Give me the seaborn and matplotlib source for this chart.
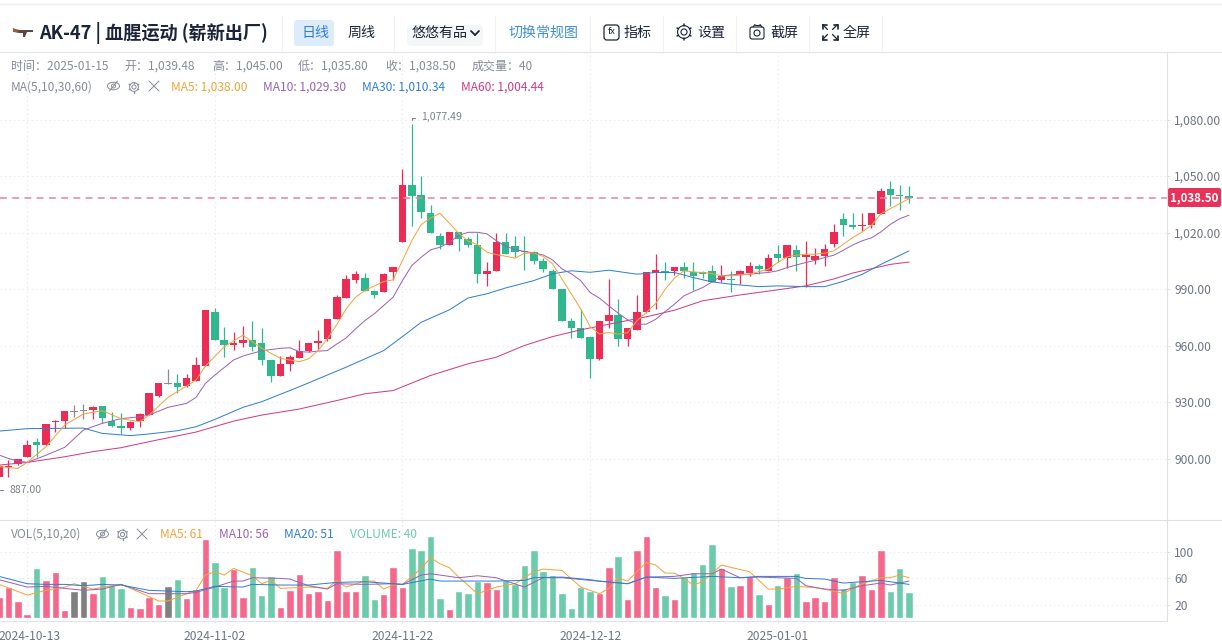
import numpy as np
import pandas as pd
import matplotlib
matplotlib.use('Agg')
import matplotlib.pyplot as plt
from matplotlib.patches import Circle, Ellipse, FancyBboxPatch, Polygon
from matplotlib.transforms import ScaledTranslation
import seaborn as sns

# Day 0 is 2024-10-13, the chart runs up to 2025-01-15
days = list(range(-3, 95))

opens = [890.6, 895.6, 897.3, 900.9, 908.8, 907.4, 919.6, 920.0, 925.6, 926.1, 926.0, 928.3, 920.1, 917.7,
         916.6, 920.0, 923.5, 933.4, 940.5, 940.5, 938.7, 941.5, 949.3, 978.1, 963.1, 960.4, 961.7, 963.1,
         961.3, 952.5, 944.0, 950.4, 953.7, 957.2, 961.4, 963.7, 974.5, 985.4, 995.0, 995.9, 989.3, 988.6,
         998.9, 1014.8, 1045.2, 1039.9, 1030.3, 1018.1, 1013.5, 1020.2, 1016.4, 1013.4, 998.3, 999.9, 1014.8,
         1012.8, 1010.2, 1009.5, 1005.2, 999.6, 989.9, 973.4, 969.5, 964.9, 953.1, 973.3, 976.4, 963.7, 968.5,
         978.2, 998.5, 999.9, 999.6, 1001.9, 999.4, 999.4, 999.8, 995.0, 995.7, 998.0, 998.7, 1002.6, 999.8,
         1008.9, 1006.5, 1010.9, 1007.3, 1005.4, 1007.7, 1013.8, 1027.2, 1023.9, 1023.5, 1024.2, 1029.7,
         1043.0, 1040.0, 1039.48]
closes = [896.3, 896.5, 900.0, 907.6, 907.4, 918.7, 920.3, 925.6, 924.9, 925.6, 927.7, 921.9, 917.5, 916.4,
          919.6, 923.9, 935.2, 940.5, 939.8, 938.0, 942.9, 949.8, 979.2, 963.1, 960.2, 961.7, 963.1, 959.4,
          952.5, 944.0, 950.4, 954.2, 957.4, 961.4, 962.8, 974.1, 985.8, 995.3, 998.2, 989.3, 987.2, 998.2,
          1001.7, 1045.2, 1039.5, 1031.2, 1020.1, 1013.5, 1020.2, 1016.4, 1013.7, 998.3, 999.9, 1014.8, 1008.9,
          1010.0, 1009.5, 1005.2, 1001.0, 989.9, 973.4, 969.5, 963.9, 952.8, 973.4, 976.4, 963.5, 969.4, 978.2,
          998.9, 1000.1, 999.2, 1002.0, 999.8, 997.1, 998.3, 993.9, 997.1, 995.0, 999.8, 1002.4, 1000.6, 1006.8,
          1006.5, 1013.7, 1007.3, 1008.2, 1007.7, 1011.4, 1020.4, 1023.9, 1023.2, 1024.1, 1030.6, 1042.1,
          1039.8, 1039.3, 1038.5]
highs = [896.8, 899.5, 900.2, 910.1, 911.0, 918.7, 920.7, 925.6, 928.4, 929.0, 928.1, 928.3, 925.1, 924.2,
         920.0, 924.2, 935.2, 940.5, 947.7, 944.9, 944.9, 953.9, 979.2, 979.9, 969.8, 967.3, 970.5, 973.0,
         969.3, 952.5, 954.8, 955.1, 963.1, 961.4, 968.5, 974.1, 986.7, 997.8, 999.6, 998.7, 989.6, 998.7,
         1001.7, 1053.8, 1077.49, 1049.8, 1034.9, 1020.1, 1020.2, 1020.2, 1017.6, 1019.7, 1004.5, 1020.1, 1020.1,
         1018.0, 1018.0, 1010.5, 1006.6, 1000.8, 990.2, 974.8, 979.6, 964.9, 973.4, 995.3, 984.7, 969.4, 987.0,
         998.9, 1008.9, 1004.5, 1002.0, 1004.5, 1004.5, 999.8, 1002.9, 1002.9, 999.8, 1000.1, 1004.2, 1003.6,
         1008.6, 1013.5, 1013.7, 1013.5, 1015.7, 1011.8, 1013.9, 1024.8, 1030.4, 1030.4, 1030.4, 1030.6,
         1043.7, 1047.2, 1045.1, 1045.0]
lows = [890.3, 890.6, 897.0, 900.9, 901.2, 907.4, 914.5, 916.3, 922.4, 921.0, 921.4, 919.3, 917.1, 913.3,
        915.5, 917.1, 923.1, 932.7, 939.8, 935.2, 938.3, 941.2, 949.3, 963.1, 954.2, 957.8, 959.2, 957.4,
        949.6, 940.6, 944.0, 946.8, 953.4, 956.5, 958.4, 962.8, 974.5, 985.4, 993.2, 989.3, 985.4, 988.3,
        995.0, 1014.8, 1023.8, 1027.8, 1020.1, 1011.4, 1013.5, 1010.2, 1012.3, 993.2, 991.6, 999.9, 1008.9,
        1007.0, 1000.3, 1003.5, 999.0, 989.9, 973.4, 964.1, 963.9, 943.0, 952.6, 969.7, 960.0, 960.0, 968.5,
        977.5, 979.6, 994.8, 997.6, 995.9, 989.7, 996.2, 993.6, 993.6, 988.8, 992.7, 997.1, 998.0, 999.8,
        1004.2, 1001.5, 999.8, 991.4, 1003.6, 1002.4, 1012.4, 1018.0, 1022.1, 1020.9, 1022.5, 1029.7,
        1034.0, 1031.8, 1035.8]
volumes = [32, 47, 26, 6, 75, 57, 69, 12, 41, 56, 38, 63, 50, 45, 17, 15, 32, 21, 48, 59, 30, 44, 119, 84, 47,
           74, 32, 77, 35, 63, 17, 42, 66, 38, 41, 27, 102, 41, 41, 65, 29, 36, 77, 47, 105, 102, 123, 30, 14,
           41, 38, 56, 54, 44, 57, 51, 80, 102, 71, 65, 38, 15, 47, 41, 38, 77, 93, 29, 102, 123, 47, 35, 29,
           62, 69, 81, 111, 75, 48, 50, 63, 36, 21, 50, 62, 68, 26, 32, 26, 62, 45, 54, 65, 44, 102, 41, 75, 40]
flat_days = [5, 6, 15]

ma5_days = [-3, -1, 0, 2, 4, 6, 8, 10, 12, 13, 15, 17, 18, 19, 21, 23, 25, 27, 29] + list(range(30, 95))
ma5 = [896, 895, 898.2, 906.5, 918, 923.9, 925.6, 921.4, 919.8, 923.3, 932.7, 938.7, 941.9, 949.3, 959.5, 965.7,
       958.7, 953.4, 951.6, 953.1, 957.5, 963.7, 971.3, 979.6, 985.8, 989.3, 991.8, 994.1, 995, 1005.2, 1015.8,
       1024.3, 1027.8, 1030.3, 1025, 1019.7, 1015.5, 1013.7, 1009.6, 1008.4, 1007.5, 1006.5, 1009.1, 1009.3,
       1007.4, 1003.5, 995.5, 987.6, 979.6, 970.3, 966.3, 967.1, 966.2, 967, 973.3, 977.7, 982.4, 990, 995.9,
       999.8, 999.2, 998.9, 998.3, 997.1, 997.1, 997.5, 998, 999.4, 1000.6, 1004.2, 1007.2, 1008.1, 1008.6,
       1008.6, 1009.1, 1010.4, 1013.9, 1017.4, 1020.4, 1023.9, 1030, 1032.7, 1035.4, 1038]
ma10_days = [-3, -2, -1, 0, 2, 4, 6, 8, 10, 12, 13, 15, 17, 18, 19, 20, 22, 23, 25, 27, 28, 29] + list(range(30, 95))
ma10 = [902.1, 900.3, 898.9, 898.2, 902, 906.2, 915.4, 918.9, 921.4, 922.4, 923.3, 927.4, 929.5, 932.7, 940.1,
        944.5, 952.5, 954.6, 957.4, 958.7, 959, 956.9, 956.7, 957.2, 957.5, 961, 964.2, 969, 973.4, 977, 981.4,
        985.8, 994.6, 1002.6, 1007, 1010.9, 1012.3, 1014.9, 1018.5, 1020.2, 1020.2, 1019.4, 1015.8, 1012.8,
        1011.1, 1010, 1009.3, 1008.2, 1005.6, 1000.8, 998.2, 994.6, 988.3, 985.3, 981.2, 977.3, 973.8, 971.5,
        971.5, 974.1, 978.2, 982.1, 986.5, 988.8, 990.9, 993.9, 997.1, 997.6, 998, 998, 998.5, 998.9, 999.8,
        1001.5, 1002.9, 1004.2, 1005.4, 1006.8, 1008.1, 1010.7, 1013.5, 1015.7, 1017.3, 1020.4, 1024.4, 1027.4,
        1029.3]
ma30_days = [-3, 0, 6, 8, 11, 13, 16, 18, 20, 23, 25, 29, 34, 38, 40, 42, 45, 47, 49, 51, 54, 56, 58, 60, 62, 65,
             67, 69, 71, 73, 75, 78, 80, 83, 85, 87, 89, 91, 94]
ma30 = [914.8, 916.1, 916.4, 913.6, 912.4, 913.3, 915, 917.1, 921, 927.4, 930.4, 938.3, 948.7, 957.5, 964.9,
        972.5, 979.1, 985.4, 987.6, 990.7, 994.6, 998.2, 999.8, 999, 1000.1, 998, 998.9, 998.9, 996.2, 993.9,
        992.7, 991.4, 991.8, 991.4, 991.4, 994.2, 997.9, 1003.2, 1010.34]
ma60_days = [-3, 0, 4, 7, 10, 13, 18, 22, 25, 29, 33, 36, 39, 43, 47, 50, 53, 56, 59, 61, 66, 69, 72, 76, 80, 83,
             86, 88, 90, 92, 94]
ma60 = [896.8, 898.2, 901.2, 903.9, 906, 909.2, 914.3, 920.1, 923.3, 926.5, 931, 934.6, 936.3, 944.3, 950.5, 954,
        960.2, 964.9, 968.5, 970.5, 975.4, 978.9, 983.9, 987, 989.7, 991.8, 995.5, 998.6, 1000.9, 1003.2, 1004.44]

vol_ma5_days = [-3, 0, 2, 4, 5, 7, 9, 10, 12, 14, 15, 17, 18, 19, 20, 21, 22, 24, 25, 26, 27, 30, 32, 33, 34, 36,
                37, 38, 39, 40, 42, 43, 44, 45, 46, 48, 50, 52, 54, 55, 57, 59, 61, 62, 63, 64, 66, 67, 68, 69,
                70, 71, 72, 74, 77, 79, 80, 82, 84, 86, 87, 89, 91, 92, 93, 94]
vol_ma5 = [51, 35, 42, 47, 52, 44, 49, 51, 39, 26, 26, 37, 42, 65, 70, 65, 75, 64, 52, 57, 45, 47, 45, 57, 47, 56,
           56, 44, 50, 51, 75, 91, 82, 76, 62, 37, 47, 52, 70, 74, 72, 47, 37, 45, 60, 56, 84, 80, 68, 68,
           60, 50, 55, 80, 70, 44, 44, 48, 46, 41, 37, 52, 61, 61, 65, 61]
vol_ma10_days = [-3, 0, 2, 4, 6, 8, 10, 13, 17, 18, 20, 22, 23, 24, 27, 28, 30, 32, 33, 36, 39, 40, 42, 43, 46, 48,
                 50, 53, 55, 57, 60, 64, 66, 69, 71, 73, 74, 76, 78, 82, 83, 85, 87, 89, 91, 92, 94]
vol_ma10 = [58, 47, 48, 45, 42, 44, 51, 37, 37, 39, 47, 56, 56, 61, 60, 59, 49, 44, 52, 51, 52, 51, 65, 67, 61, 64,
            61, 47, 61, 61, 57, 52, 62, 63, 67, 67, 74, 61, 62, 60, 49, 44, 42, 49, 53, 50, 56]
vol_ma20_days = [-3, 0, 2, 4, 6, 8, 10, 13, 17, 18, 20, 23, 24, 27, 30, 33, 36, 39, 40, 43, 44, 46, 50, 53, 54, 57,
                 60, 61, 64, 66, 69, 73, 76, 78, 82, 83, 85, 87, 89, 91, 94]
vol_ma20 = [63, 52, 51, 51, 49, 51, 50, 42, 40, 41, 48, 47, 51, 50, 50, 54, 55, 52, 51, 59, 56, 56, 56, 57, 61, 62,
            58, 56, 52, 62, 60, 63, 61, 63, 63, 60, 59, 53, 55, 57, 51]

price_ticks = [900, 930, 960, 990, 1020, 1050, 1080]
vol_ticks = [20, 60, 100]
date_ticks = [0, 20, 40, 60, 80]
date_labels = ['2024-10-13', '2024-11-02', '2024-11-22', '2024-12-12', '2025-01-01']
last_price = 1038.50

RED, GREEN, GREY = '#ED2C56', '#2FB88D', '#8C8C8C'
VOL_COLORS = {'up': '#F5688B', 'down': '#6CCBAA', 'flat': '#808080'}
MA_COLORS = ['#F3A33A', '#9A62B8', '#2F7FD3', '#D23A80']
LINE, TXT, DARK = '#DFE1E5', '#868C99', '#1B2438'

sns.set_theme(style='white')
plt.rcParams['font.family'] = ['Noto Sans CJK SC', 'DejaVu Sans']
W, H = 1222, 643


def panel(left, top, right, bottom):
    return fig.add_axes([left / W, 1 - bottom / H, (right - left) / W, (bottom - top) / H])


fig = plt.figure(figsize=(W / 100, H / 100), dpi=100, facecolor='white')
ax = panel(0, 52, 1167, 519)
ax_vol = panel(0, 519, 1167, 620)

# candles
df = pd.DataFrame({'day': days, 'open': opens, 'close': closes, 'high': highs, 'low': lows, 'volume': volumes})
df['kind'] = np.where(df['close'] >= df['open'], 'up', 'down')
df.loc[df['day'].isin(flat_days), 'kind'] = 'flat'
candle_color = df['kind'].map({'up': RED, 'down': GREEN, 'flat': GREY})

ax.vlines(df['day'], df['low'], df['high'], colors=candle_color, linewidth=0.9, zorder=2)
ax.bar(df['day'], (df['close'] - df['open']).abs().clip(lower=0.6), bottom=df[['open', 'close']].min(axis=1),
       width=0.8, color=candle_color, linewidth=0, zorder=3)

# moving averages
for xs, ys, c in [(ma60_days, ma60, MA_COLORS[3]), (ma30_days, ma30, MA_COLORS[2]),
                  (ma10_days, ma10, MA_COLORS[1]), (ma5_days, ma5, MA_COLORS[0])]:
    sns.lineplot(x=xs, y=ys, color=c, linewidth=0.72, ax=ax, zorder=4, errorbar=None)
ax.axhline(last_price, color='#E8839B', linewidth=1.1, linestyle=(0, (4.5, 3.5)), zorder=5)

# volume
sns.barplot(data=df, x='day', y='volume', hue='kind', palette=VOL_COLORS, native_scale=True, dodge=False,
            width=0.8, saturation=1, errorbar=None, legend=False, ax=ax_vol, zorder=2)
for xs, ys, c in [(vol_ma5_days, vol_ma5, MA_COLORS[0]), (vol_ma10_days, vol_ma10, MA_COLORS[1]),
                  (vol_ma20_days, vol_ma20, MA_COLORS[2])]:
    sns.lineplot(x=xs, y=ys, color=c, linewidth=0.72, ax=ax_vol, zorder=4, errorbar=None)

# axes setup
ax.set_xlim(-2.9, 121.5)
ax.set_ylim(868.2, 1115.8)
ax_vol.set_xlim(-2.9, 121.5)
ax_vol.set_ylim(-2.55, 149.3)

ax.set_yticks(price_ticks, [f'{p:,.2f}' for p in price_ticks])
ax.set_xticks(date_ticks, [])
ax_vol.set_yticks(vol_ticks, [str(v) for v in vol_ticks])
ax_vol.set_xticks(date_ticks, date_labels)
ax_vol.set_xlabel('')
ax_vol.set_ylabel('')
for a in (ax, ax_vol):
    a.yaxis.tick_right()
    a.tick_params(axis='y', length=2.2, width=0.7, color=LINE, labelsize=8.7, labelcolor='#6F7582', pad=3, right=True)
    a.grid(True, color='#ECEDF0', linewidth=0.8, linestyle=(0, (1.5, 2.5)), zorder=0)
    a.set_axisbelow(True)
    for s in a.spines.values():
        s.set_visible(False)
ax.tick_params(axis='x', length=0)
ax_vol.tick_params(axis='x', length=2.2, width=0.7, color=LINE, labelsize=8.7, labelcolor='#6F7582', pad=5, bottom=True)
# first date sits at the left edge, nudge it so the text stays inside
first = ax_vol.get_xticklabels()[0]
first.set_transform(first.get_transform() + ScaledTranslation(2.5 / 100, 0, fig.dpi_scale_trans))

# page chrome, drawn in pixel coordinates
ui = fig.add_axes([0, 0, 1, 1], facecolor='none', zorder=10)
ui.set_xlim(0, W)
ui.set_ylim(H, 0)
ui.axis('off')


def txt(x, y, s, size=12, color=TXT, ha='left', **kw):
    ui.text(x, y, s, fontsize=size * 0.72, color=color, ha=ha, va='center', **kw)


def seg(x0, y0, x1, y1, color=LINE, lw=0.8):
    ui.plot([x0, x1], [y0, y1], color=color, linewidth=lw, solid_capstyle='round')


seg(0, 4, W, 4, '#EEEFF1', 1)
seg(0, 51.5, 1222, 51.5, '#E6E7EA', 1)
seg(0, 519.5, 1222, 519.5)
seg(0, 620.5, 1167, 620.5)
seg(1167, 52, 1167, 620.5)
for x in [282, 394, 495, 590, 663, 736, 809, 882]:
    seg(x, 16, x, 51, '#F0F1F3', 0.8)

# gun icon
ui.add_patch(Polygon([[13, 29], [20, 30], [33, 30], [33, 32], [27, 32], [25, 37], [23, 37], [23, 33], [19, 33], [14, 32]],
                     facecolor='#5A4A42', edgecolor='none'))
ui.add_patch(Polygon([[13, 28], [18, 30], [18, 32], [13, 32]], facecolor='#9A5B3A', edgecolor='none'))

txt(39, 32.5, 'AK-47 | 血腥运动 (崭新出厂)', 18.2, DARK, fontweight='bold')
ui.add_patch(FancyBboxPatch((294, 20), 40, 26, boxstyle='round,pad=0,rounding_size=3', fc='#DDEBFA', ec='none'))
txt(315, 32.5, '日线', 14, '#2F7FD3', ha='center')
txt(362, 32.5, '周线', 14, DARK, ha='center')
ui.add_patch(FancyBboxPatch((407, 25), 76, 21, boxstyle='round,pad=0,rounding_size=5', fc='#F5F6F8', ec='none'))
txt(412, 33, '悠悠有品', 14, DARK)
seg(471, 31, 475, 35, DARK, 1.3)
seg(475, 35, 479, 31, DARK, 1.3)
txt(509, 32.5, '切换常规图', 14, '#3F8FD6')
ui.add_patch(FancyBboxPatch((604, 25), 15, 15, boxstyle='round,pad=0,rounding_size=3', fc='none', ec=DARK, lw=0.9))
txt(611.5, 32, 'fx', 9.5, DARK, ha='center', style='italic')
txt(624, 32.5, '指标', 14, DARK)


def gear(x, y, r, color, lw=0.7):
    ui.add_patch(Circle((x, y), r * 0.38, fc='none', ec=color, lw=lw))
    ui.add_patch(Circle((x, y), r * 0.8, fc='none', ec=color, lw=lw))
    for a in np.arange(0, 360, 60) + 30:
        c, s = np.cos(np.radians(a)), np.sin(np.radians(a))
        seg(x + c * r * 0.8, y + s * r * 0.8, x + c * r, y + s * r, color, lw + 0.3)


def eye(x, y, color):
    ui.add_patch(Ellipse((x, y), 12, 7.5, fc='none', ec=color, lw=0.7))
    ui.add_patch(Circle((x, y), 2, fc='none', ec=color, lw=0.7))
    seg(x - 4, y + 5, x + 4, y - 5, color, 0.7)


def cross(x, y, color):
    seg(x - 5, y - 5, x + 5, y + 5, color, 0.7)
    seg(x - 5, y + 5, x + 5, y - 5, color, 0.7)


gear(684, 32, 8, DARK, 0.8)
txt(697, 32.5, '设置', 14, DARK)
ui.add_patch(FancyBboxPatch((750, 27), 14, 12, boxstyle='round,pad=0,rounding_size=2', fc='none', ec=DARK, lw=0.8))
seg(753, 27, 755, 24.5, DARK, 0.8)
seg(755, 24.5, 760, 24.5, DARK, 0.8)
seg(760, 24.5, 762, 27, DARK, 0.8)
ui.add_patch(Circle((757, 33), 3, fc='none', ec=DARK, lw=0.8))
txt(770, 32.5, '截屏', 14, DARK)
for sx, sy in [(-1, -1), (1, -1), (-1, 1), (1, 1)]:
    cx, cy = 830 + sx * 7.5, 32 + sy * 7.5
    seg(cx, cy, cx - sx * 5, cy - sy * 5, DARK, 0.9)
    seg(cx, cy, cx - sx * 4, cy, DARK, 1.2)
    seg(cx, cy, cx, cy - sy * 4, DARK, 1.2)
txt(843, 32.5, '全屏', 14, DARK)

# info lines
for x, s in [(11, '时间：2025-01-15'), (124, '开：1,039.48'), (212, '高：1,045.00'), (298, '低：1,035.80'),
             (385, '收：1,038.50'), (472, '成交量：40')]:
    txt(x, 66.5, s)
txt(11, 87, 'MA(5,10,30,60)')
eye(113.5, 86, TXT)
gear(134, 87, 5.5, TXT)
cross(154, 86, TXT)
for x, s, c in zip([171, 263, 362, 461],
                   ['MA5: 1,038.00', 'MA10: 1,029.30', 'MA30: 1,010.34', 'MA60: 1,004.44'], MA_COLORS):
    txt(x, 87, s, color=c)

txt(11, 534.5, 'VOL(5,10,20)')
eye(102.5, 534, TXT)
gear(122.5, 534.5, 5.5, TXT)
cross(142, 534, TXT)
for x, s, c in zip([160, 219, 284, 350], ['MA5: 61', 'MA10: 56', 'MA20: 51', 'VOLUME: 40'],
                   [MA_COLORS[0], MA_COLORS[1], MA_COLORS[2], '#6CCBAA']):
    txt(x, 534.5, s, color=c)

# last price tag and high / low marks
ui.add_patch(FancyBboxPatch((1168, 188), 53, 19, boxstyle='round,pad=0,rounding_size=2', fc='#E8325A', ec='none'))
txt(1194.5, 197.5, f'{last_price:,.2f}', 11.5, 'white', ha='center', fontweight='bold')
txt(421, 117, '1,077.49', 10.5, '#7B818C')
seg(411.5, 120, 411.5, 117.5, '#7B818C')
seg(411.5, 117.5, 415, 117.5, '#7B818C')
txt(10, 490, '887.00', 10.5, '#7B818C')
seg(0, 490, 3, 490, '#7B818C')

fig.savefig('out.png', dpi=100)
